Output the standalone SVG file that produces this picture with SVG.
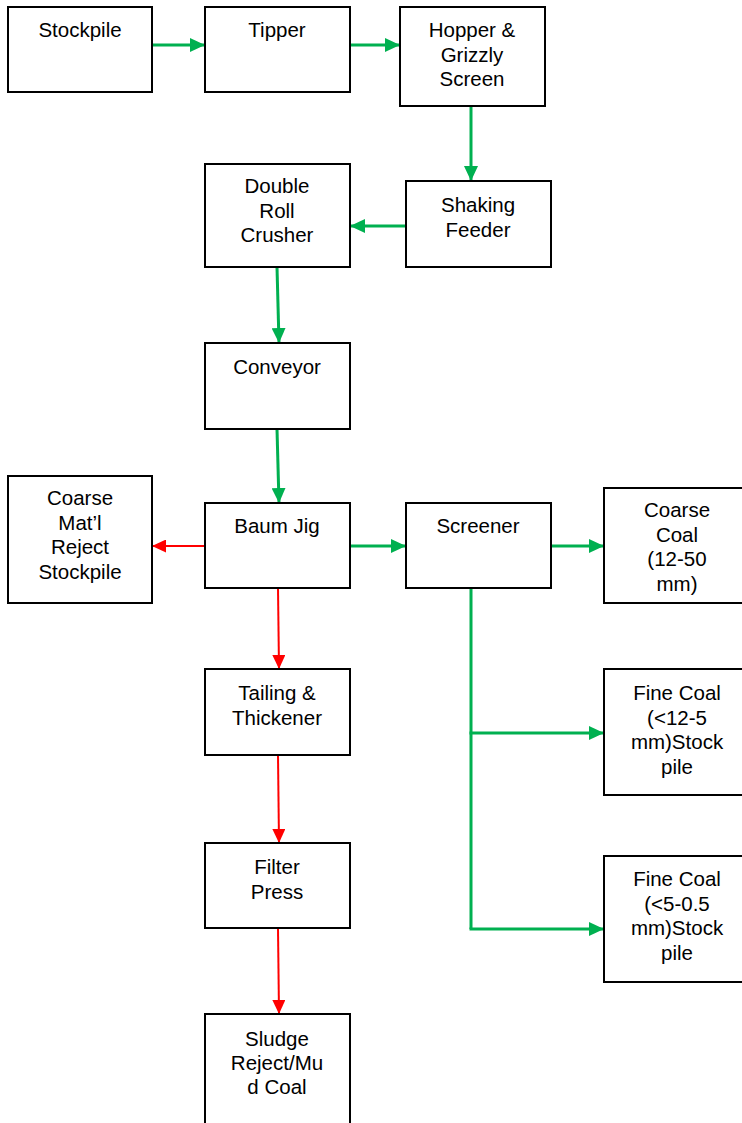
<svg xmlns="http://www.w3.org/2000/svg" width="742" height="1123" viewBox="0 0 742 1123">
<style>
.box{fill:#fff;stroke:#000;stroke-width:2}
.t{font-family:"Liberation Sans",Arial,sans-serif;font-size:20.5px;fill:#000;text-anchor:middle}
.g{stroke:#00B050;stroke-width:3;fill:none}
.r{stroke:#FF0000;stroke-width:2;fill:none}
</style>
<defs>
<marker id="ag" markerUnits="userSpaceOnUse" markerWidth="15" markerHeight="14" refX="15" refY="7" orient="auto"><path d="M0,0 L15,7 L0,14 z" fill="#00B050"/></marker>
<marker id="ar" markerUnits="userSpaceOnUse" markerWidth="14" markerHeight="13" refX="14" refY="6.5" orient="auto"><path d="M0,0 L14,6.5 L0,13 z" fill="#FF0000"/></marker>
</defs>
<rect width="742" height="1123" fill="#fff"/>
<g id="connectors">
<line class="g" x1="152" y1="45" x2="205" y2="45" marker-end="url(#ag)"/>
<line class="g" x1="350" y1="45" x2="400" y2="45" marker-end="url(#ag)"/>
<line class="g" x1="471" y1="106" x2="471" y2="181" marker-end="url(#ag)"/>
<line class="g" x1="406" y1="226" x2="350" y2="226" marker-end="url(#ag)"/>
<line class="g" x1="277" y1="267" x2="279" y2="343" marker-end="url(#ag)"/>
<line class="g" x1="277" y1="429" x2="279" y2="503" marker-end="url(#ag)"/>
<line class="r" x1="205" y1="546" x2="152" y2="546" marker-end="url(#ar)"/>
<line class="g" x1="350" y1="546" x2="406" y2="546" marker-end="url(#ag)"/>
<line class="g" x1="551" y1="546" x2="604" y2="546" marker-end="url(#ag)"/>
<polyline class="g" points="471,588 471,929"/>
<line class="g" x1="469.5" y1="733" x2="604" y2="733" marker-end="url(#ag)"/>
<line class="g" x1="469.5" y1="929" x2="604" y2="929" marker-end="url(#ag)"/>
<line class="r" x1="278" y1="588" x2="279" y2="669" marker-end="url(#ar)"/>
<line class="r" x1="278" y1="755" x2="279" y2="843" marker-end="url(#ar)"/>
<line class="r" x1="278" y1="928" x2="279" y2="1014" marker-end="url(#ar)"/>
</g>
<g id="stockpile"><rect class="box" x="8" y="7" width="144" height="85"/><text class="t" x="80" y="37">Stockpile</text></g>
<g id="tipper"><rect class="box" x="205" y="7" width="145" height="85"/><text class="t" x="277" y="37">Tipper</text></g>
<g id="hopper"><rect class="box" x="400" y="7" width="145" height="99"/><text class="t" x="472" y="37">Hopper &amp;</text><text class="t" x="472" y="61.5">Grizzly</text><text class="t" x="472" y="86">Screen</text></g>
<g id="shaking-feeder"><rect class="box" x="406" y="181" width="145" height="86"/><text class="t" x="478" y="212">Shaking</text><text class="t" x="478" y="236.5">Feeder</text></g>
<g id="double-roll-crusher"><rect class="box" x="205" y="164" width="145" height="103"/><text class="t" x="277" y="193">Double</text><text class="t" x="277" y="217.5">Roll</text><text class="t" x="277" y="242">Crusher</text></g>
<g id="conveyor"><rect class="box" x="205" y="343" width="145" height="86"/><text class="t" x="277" y="374">Conveyor</text></g>
<g id="baum-jig"><rect class="box" x="205" y="503" width="145" height="85"/><text class="t" x="277" y="533">Baum Jig</text></g>
<g id="coarse-reject"><rect class="box" x="8" y="476" width="144" height="127"/><text class="t" x="80" y="505">Coarse</text><text class="t" x="80" y="529.5">Mat’l</text><text class="t" x="80" y="554">Reject</text><text class="t" x="80" y="578.5">Stockpile</text></g>
<g id="screener"><rect class="box" x="406" y="503" width="145" height="85"/><text class="t" x="478" y="533">Screener</text></g>
<g id="coarse-coal"><rect class="box" x="604" y="488" width="146" height="115"/><text class="t" x="677" y="517">Coarse</text><text class="t" x="677" y="541.5">Coal</text><text class="t" x="677" y="566">(12-50</text><text class="t" x="677" y="590.5">mm)</text></g>
<g id="fine-coal-1"><rect class="box" x="604" y="669" width="146" height="126"/><text class="t" x="677" y="700">Fine Coal</text><text class="t" x="677" y="724.5">(&lt;12-5</text><text class="t" x="677" y="749">mm)Stock</text><text class="t" x="677" y="773.5">pile</text></g>
<g id="fine-coal-2"><rect class="box" x="604" y="856" width="146" height="126"/><text class="t" x="677" y="886">Fine Coal</text><text class="t" x="677" y="910.5">(&lt;5-0.5</text><text class="t" x="677" y="935">mm)Stock</text><text class="t" x="677" y="959.5">pile</text></g>
<g id="tailing-thickener"><rect class="box" x="205" y="669" width="145" height="86"/><text class="t" x="277" y="700">Tailing &amp;</text><text class="t" x="277" y="724.5">Thickener</text></g>
<g id="filter-press"><rect class="box" x="205" y="843" width="145" height="85"/><text class="t" x="277" y="874">Filter</text><text class="t" x="277" y="898.5">Press</text></g>
<g id="sludge"><rect class="box" x="205" y="1014" width="145" height="120"/><text class="t" x="277" y="1046">Sludge</text><text class="t" x="277" y="1070">Reject/Mu</text><text class="t" x="277" y="1094">d Coal</text></g>
</svg>
